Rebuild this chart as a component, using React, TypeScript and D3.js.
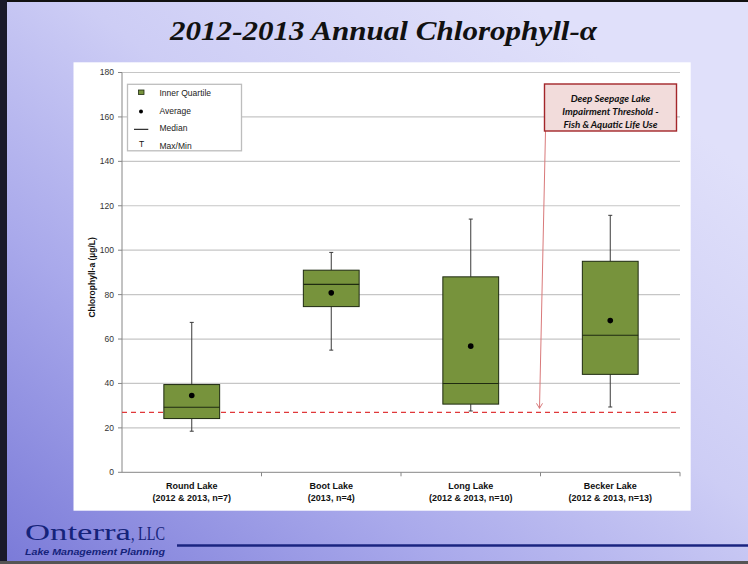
import React from "react";
import * as d3 from "d3";

const categories = ["Round Lake", "Boot Lake", "Long Lake", "Becker Lake"];
const subLabels = ["(2012 & 2013, n=7)", "(2013, n=4)", "(2012 & 2013, n=10)", "(2012 & 2013, n=13)"];
const maxVals = [67.5, 99, 114, 115.7];
const q3Vals = [39.5, 91, 88, 95];
const medianVals = [29.3, 84.6, 40, 61.7];
const q1Vals = [24.2, 74.6, 30.7, 44.1];
const minVals = [18.5, 55, 27.6, 29.4];
const meanVals = [34.6, 80.8, 56.8, 68.3];
const threshold = 27;
const yTicks = [0, 20, 40, 60, 80, 100, 120, 140, 160, 180];
const legendItems = ["Inner Quartile", "Average", "Median", "Max/Min"];
const noteLines = ["Deep Seepage Lake", "Impairment Threshold -", "Fish & Aquatic Life Use"];

const W = 748;
const H = 564;
const plot = { left: 122, right: 680, top: 72.5, bottom: 472.3 };

export default function App() {
  const x = d3.scaleBand<string>().domain(categories).range([plot.left, plot.right]).paddingInner(0).paddingOuter(0);
  const y = d3.scaleLinear().domain([0, 180]).range([plot.bottom, plot.top]);
  const bw = x.bandwidth();
  const boxW = bw * 0.4;
  const capW = 4;
  const sans = "'Liberation Sans', Arial, sans-serif";

  const boundary = (x("Becker Lake") as number);
  const noteX0 = boundary + 4;
  const noteX1 = x("Becker Lake")! + bw - 3.5;
  const noteY0 = 84;
  const noteY1 = 131;
  const tipY = y(threshold) - 4;
  const arrowTop = { x: noteX0 + 1, y: noteY1 };
  const arrowTip = { x: boundary - 1, y: tipY };

  return (
    <svg width={W} height={H} style={{ position: "absolute", left: 0, top: 0 }} xmlns="http://www.w3.org/2000/svg">
      <defs>
        <linearGradient id="bg" x1="0" y1="1" x2="0.85" y2="0.15">
          <stop offset="0" stopColor="#7a7ad8" />
          <stop offset="0.35" stopColor="#a9a9eb" />
          <stop offset="0.65" stopColor="#cdcdf5" />
          <stop offset="1" stopColor="#e0e0fa" />
        </linearGradient>
      </defs>
      <rect x={0} y={0} width={W} height={H} fill="url(#bg)" />
      {/* frame borders */}
      <rect x={0} y={0} width={W} height={2} fill="#111" />
      <rect x={0} y={0} width={7} height={H} fill="#1a1a2a" />
      <rect x={0} y={H - 3} width={W} height={3} fill="#555" />

      {/* title */}
      <text x={383.5} y={40} textAnchor="middle" fontFamily="'Liberation Serif', 'DejaVu Serif', serif" fontWeight="bold" fontStyle="italic" fontSize={28} fill="#111" textLength={427} lengthAdjust="spacingAndGlyphs">
        2012-2013 Annual Chlorophyll-α
      </text>

      {/* chart area */}
      <rect x={73.5} y={62.3} width={617.2} height={448.4} fill="#ffffff" />

      {/* grid lines */}
      {yTicks.filter((t) => t > 0).map((t) => (
        <line key={"g" + t} x1={plot.left} x2={plot.right} y1={y(t)} y2={y(t)} stroke="#c6c6c6" strokeWidth={1.2} />
      ))}

      {/* y axis */}
      <line x1={plot.left} x2={plot.left} y1={plot.top} y2={plot.bottom} stroke="#868686" strokeWidth={1} />
      {yTicks.map((t) => (
        <g key={"t" + t}>
          <line x1={plot.left - 4} x2={plot.left} y1={y(t)} y2={y(t)} stroke="#868686" strokeWidth={1} />
          <text x={plot.left - 8} y={y(t)} dy="0.35em" textAnchor="end" fontFamily={sans} fontSize={8.5} fill="#333">
            {t}
          </text>
        </g>
      ))}
      <text transform={`translate(92,${(plot.top + plot.bottom) / 2 + 5}) rotate(-90)`} textAnchor="middle" dy="0.35em" fontFamily={sans} fontWeight="bold" fontSize={8.5} fill="#111">
        Chlorophyll-a (µg/L)
      </text>

      {/* x axis */}
      <line x1={plot.left} x2={plot.right} y1={plot.bottom} y2={plot.bottom} stroke="#868686" strokeWidth={1} />
      {categories.map((c, i) => (
        <line key={"xt" + i} x1={x(c)! + bw} x2={x(c)! + bw} y1={plot.bottom} y2={plot.bottom + 4} stroke="#868686" strokeWidth={1} />
      ))}
      {categories.map((c, i) => (
        <g key={"xl" + i}>
          <text x={x(c)! + bw / 2} y={489} textAnchor="middle" fontFamily={sans} fontWeight="bold" fontSize={9} fill="#111">
            {c}
          </text>
          <text x={x(c)! + bw / 2} y={501} textAnchor="middle" fontFamily={sans} fontWeight="bold" fontSize={9} fill="#111">
            {subLabels[i]}
          </text>
        </g>
      ))}

      {/* threshold */}
      <line x1={plot.left} x2={plot.right} y1={y(threshold)} y2={y(threshold)} stroke="#e0383a" strokeWidth={1.3} strokeDasharray="5,4" />

      {/* boxes */}
      {categories.map((c, i) => {
        const cx = x(c)! + bw / 2;
        return (
          <g key={"b" + i}>
            <line x1={cx} x2={cx} y1={y(maxVals[i])} y2={y(q3Vals[i])} stroke="#3a3a3a" strokeWidth={1} />
            <line x1={cx} x2={cx} y1={y(q1Vals[i])} y2={y(minVals[i])} stroke="#3a3a3a" strokeWidth={1} />
            <line x1={cx - capW / 2} x2={cx + capW / 2} y1={y(maxVals[i])} y2={y(maxVals[i])} stroke="#3a3a3a" strokeWidth={1} />
            <line x1={cx - capW / 2} x2={cx + capW / 2} y1={y(minVals[i])} y2={y(minVals[i])} stroke="#3a3a3a" strokeWidth={1} />
            <rect x={cx - boxW / 2} y={y(q3Vals[i])} width={boxW} height={y(q1Vals[i]) - y(q3Vals[i])} fill="#77933c" stroke="#1e2a10" strokeWidth={1} />
            <line x1={cx - boxW / 2} x2={cx + boxW / 2} y1={y(medianVals[i])} y2={y(medianVals[i])} stroke="#1e2a10" strokeWidth={1.1} />
            <circle cx={cx} cy={y(meanVals[i])} r={2.8} fill="#000" />
          </g>
        );
      })}

      {/* legend */}
      <rect x={127.5} y={84.3} width={114} height={66.5} fill="#fff" stroke="#bdbdbd" strokeWidth={1.3} />
      <rect x={138.5} y={90} width={5.5} height={4.5} fill="#77933c" stroke="#1e2a10" strokeWidth={0.8} />
      <circle cx={141} cy={111.5} r={2} fill="#000" />
      <line x1={134} x2={148.3} y1={129.3} y2={129.3} stroke="#000" strokeWidth={1} />
      <text x={141.5} y={144.3} dy="0.35em" textAnchor="middle" fontFamily={sans} fontSize={8.5} fill="#111">T</text>
      {legendItems.map((t, i) => (
        <text key={"li" + i} x={159.5} y={[93.3, 110.7, 128.3, 146][i]} dy="0.35em" fontFamily={sans} fontSize={8.5} fill="#222">
          {t}
        </text>
      ))}

      {/* annotation arrow */}
      <line x1={arrowTop.x} y1={arrowTop.y} x2={arrowTip.x} y2={arrowTip.y} stroke="#d9797a" strokeWidth={1} />
      <path d={`M${arrowTip.x - 3},${arrowTip.y - 5} L${arrowTip.x},${arrowTip.y} L${arrowTip.x + 3},${arrowTip.y - 5}`} fill="none" stroke="#d9797a" strokeWidth={1} />

      {/* annotation box */}
      <rect x={noteX0} y={noteY0} width={noteX1 - noteX0} height={noteY1 - noteY0} fill="#f2dcdb" stroke="#a3262a" strokeWidth={1.4} />
      {noteLines.map((t, i) => (
        <text key={"n" + i} x={(noteX0 + noteX1) / 2} y={98.5 + i * 13} dy="0.35em" textAnchor="middle" fontFamily="Lato, 'Open Sans', sans-serif" fontWeight="bold" fontStyle="italic" fontSize={9.8} fill="#111">
          {t}
        </text>
      ))}

      {/* footer */}
      <text x={25} y={540} fontFamily="'Liberation Serif', 'DejaVu Serif', serif" fontSize={24} fill="#15237a" textLength={106} lengthAdjust="spacingAndGlyphs">
        Onterra
      </text>
      <text x={131} y={540} fontFamily="'Liberation Serif', 'DejaVu Serif', serif" fontSize={18} fill="#15237a" textLength={34} lengthAdjust="spacingAndGlyphs">
        , LLC
      </text>
      <text x={25} y={555} fontFamily={sans} fontWeight="bold" fontStyle="italic" fontSize={8.5} fill="#15237a" textLength={140} lengthAdjust="spacingAndGlyphs">
        Lake Management Planning
      </text>
      <line x1={177} x2={W} y1={545.5} y2={545.5} stroke="#1a2480" strokeWidth={2.5} />
    </svg>
  );
}
